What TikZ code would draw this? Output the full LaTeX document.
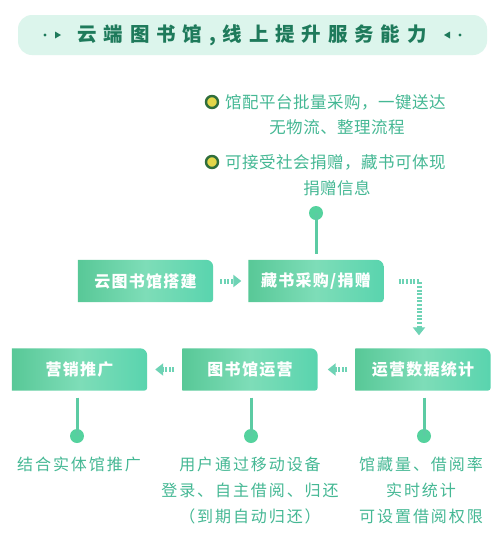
\documentclass[tikz,border=0pt]{standalone}
\usepackage{fontspec}
\usetikzlibrary{arrows.meta}
\newfontfamily\titlefont{Noto Sans CJK SC}[LetterSpace=35]
\newfontfamily\boxfont{Noto Sans CJK SC}[LetterSpace=8]
\newfontfamily\bulfont{Noto Sans CJK SC}[LetterSpace=3]
\newfontfamily\botfont{Noto Sans CJK SC}[LetterSpace=12]
\definecolor{bannerbg}{HTML}{DCF5EC}
\definecolor{titlegreen}{HTML}{1E7A5B}
\definecolor{textteal}{HTML}{45B894}
\definecolor{linegreen}{HTML}{5CCBA3}
\definecolor{dotgreen}{HTML}{55D29E}
\definecolor{arrowteal}{HTML}{6ED3B5}
\definecolor{ringgreen}{HTML}{2F6E3B}
\definecolor{bulyellow}{HTML}{E3D64A}
\definecolor{boxleft}{HTML}{58C897}
\definecolor{boxmid}{HTML}{7EDDB8}
\definecolor{boxright}{HTML}{59D4AE}
\pgfdeclarelayer{background}
\pgfsetlayers{background,main}
\tikzset{
  boxtext/.style={minimum width=135pt, minimum height=42pt, inner sep=0pt,
    text=white, font=\boxfont\bfseries\fontsize{16}{16}\selectfont},
  boxshade/.style={left color=boxleft, right color=boxright, middle color=boxmid},
  bultext/.style={text=textteal, inner sep=0pt, font=\bulfont\fontsize{16.5}{16.5}\selectfont},
  bottext/.style={text=textteal, inner sep=0pt, align=center,
    font=\botfont\fontsize{16}{26}\selectfont},
  bulring/.style={circle, draw=ringgreen, line width=2.4pt, fill=bulyellow,
    minimum size=12pt, inner sep=0pt},
  enddot/.style={circle, fill=dotgreen, minimum size=14pt, inner sep=0pt},
  stem/.style={draw=linegreen, line width=3pt},
  dotarrow/.style={draw=arrowteal, line width=5pt, dash pattern=on 2pt off 1.6pt,
    -{Triangle[width=12pt,length=8pt]}},
}
\newcommand{\boxbg}[1]{%
  \begin{pgfonlayer}{background}
  \shade[boxshade] (#1.south west) -- (#1.north west)
     [rounded corners=7pt] -- (#1.north east)
     [rounded corners=3pt] -- (#1.south east)
     [sharp corners] -- cycle;
  \end{pgfonlayer}}
\begin{document}
\begin{tikzpicture}[x=1pt,y=-1pt]
\begin{pgfonlayer}{background}
\fill[white] (0,0) rectangle (500,547);
\end{pgfonlayer}
\useasboundingbox (0,0) rectangle (500,547);
% banner
\node[fill=bannerbg, rounded corners=14pt, minimum width=469pt, minimum height=40pt,
  inner sep=0pt] (banner) at (252.5,35) {};
\node[text=titlegreen, font=\titlefont\bfseries\fontsize{19.5}{19.5}\selectfont, inner sep=0pt]
  (title) at (252,35) {云端图书馆,线上提升服务能力};
\fill[titlegreen] (45,35) circle (1.6pt);
\fill[titlegreen] (55,31.5) -- (61,35) -- (55,38.5) -- cycle;
\fill[titlegreen] (450,31.5) -- (444,35) -- (450,38.5) -- cycle;
\fill[titlegreen] (460,35) circle (1.6pt);
% bullets
\node[bulring] (r1) at (212,102) {};
\node[bultext, anchor=west] (t1a) at (225,102) {馆配平台批量采购，一键送达};
\node[bultext] (t1b) at (337,127) {无物流、整理流程};
\node[bulring] (r2) at (212,162) {};
\node[bultext, anchor=west] (t2a) at (225,162) {可接受社会捐赠，藏书可体现};
\node[bultext] (t2b) at (337,188) {捐赠信息};
% boxes
\node[boxtext] (b1) at (145.5,281) {云图书馆搭建}; \boxbg{b1}
\node[boxtext] (b2) at (316,281) {藏书采购/捐赠}; \boxbg{b2}
\node[boxtext] (c1) at (79.5,369.5) {营销推广}; \boxbg{c1}
\node[boxtext] (c2) at (250,369.5) {图书馆运营}; \boxbg{c2}
\node[boxtext] (c3) at (423,369.5) {运营数据统计}; \boxbg{c3}
% top stem
\node[enddot] (d0) at (316,213) {};
\draw[stem] (d0.center) -- ([yshift=6pt]b2.north);
% dotted arrows
\draw[dotarrow] ([xshift=7pt]b1.east) -- ([xshift=-7pt]b2.west);
\coordinate (k1) at ([xshift=15pt]b2.east);
\coordinate (k2) at (419,281);
\draw[dotarrow] (k1) -- (k2) -- ([yshift=13pt]c3.north -| k2);
\draw[dotarrow] ([xshift=-8pt]c2.west) -- ([xshift=8pt]c1.east);
\draw[dotarrow] ([xshift=-8pt]c3.west) -- ([xshift=10pt]c2.east);
% bottom stems
\node[enddot] (e1) at (77,436) {};
\node[enddot] (e2) at (251,436) {};
\node[enddot] (e3) at (424,436) {};
\draw[stem] ([yshift=-7pt]c1.south -| e1) -- (e1.center);
\draw[stem] ([yshift=-7pt]c2.south -| e2) -- (e2.center);
\draw[stem] ([yshift=-7pt]c3.south -| e3) -- (e3.center);
% bottom texts
\node[bottext, anchor=north] (x1) at (79,457) {结合实体馆推广};
\node[bottext, anchor=north] (x2) at (250,457) {用户通过移动设备\\登录、自主借阅、归还\\（到期自动归还）};
\node[bottext, anchor=north] (x3) at (421,457) {馆藏量、借阅率\\实时统计\\可设置借阅权限};
\end{tikzpicture}
\end{document}
